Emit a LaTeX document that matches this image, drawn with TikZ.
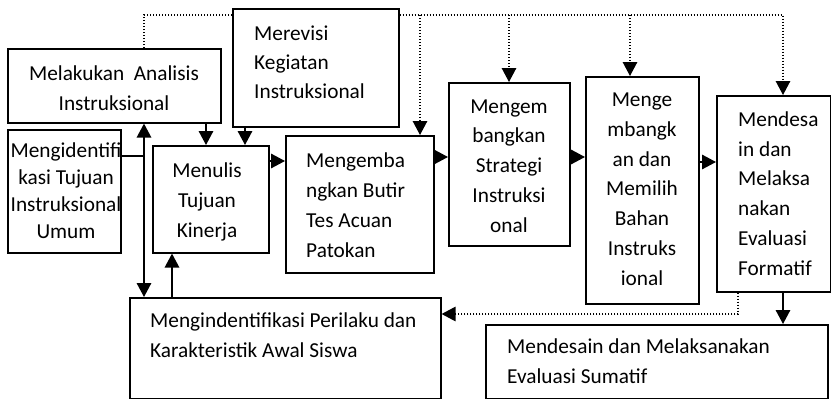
\documentclass[tikz,border=0pt]{standalone}
\usepackage{fontspec}
\setmainfont{Carlito}
\usetikzlibrary{arrows.meta}
\tikzset{
  box/.style={draw, line width=1.6pt, inner sep=0pt, anchor=north west, fill=white},
  txt/.style={font=\fontsize{21.3}{29.7}\selectfont, inner sep=0pt, anchor=base},
  txtl/.style={txt, anchor=base west, align=left},
  txtc/.style={txt, anchor=base, align=center},
  arr/.style={line width=1.6pt, -{Triangle[length=14pt,width=14.5pt]}},
  darr/.style={line width=1.6pt, {Triangle[length=14pt,width=14.5pt]}-{Triangle[length=14pt,width=14.5pt]}},
  fb/.style={line width=1.4pt, dash pattern=on 1.4pt off 1.6pt},
  fbarr/.style={fb, -{Triangle[length=14pt,width=14.5pt]}},
}
\begin{document}
\begin{tikzpicture}[x=1pt,y=-1pt]
\useasboundingbox (0,0) rectangle (831,399);
% boxes
\node[box, minimum width=213pt, minimum height=74pt] (b1) at (7,48) {};
\node[box, minimum width=166pt, minimum height=118pt] (b2) at (232,8) {};
\node[box, minimum width=113pt, minimum height=123pt] (b3) at (7,129) {};
\node[box, minimum width=116pt, minimum height=107pt] (b4) at (152,145) {};
\node[box, minimum width=148pt, minimum height=137pt] (b5) at (285,135) {};
\node[box, minimum width=121pt, minimum height=163pt] (b6) at (448,82) {};
\node[box, minimum width=113pt, minimum height=227pt] (b7) at (585,76) {};
\node[box, minimum width=114pt, minimum height=196pt] (b8) at (716,95) {};
\node[box, minimum width=311pt, minimum height=101pt] (b9) at (129,297) {};
\node[box, minimum width=342pt, minimum height=74pt] (b10) at (485,324) {};
% texts (anchored at the baseline of the last line)
\node[txtc] (t1) at (114,110) {Melakukan\ \ Analisis\\Instruksional};
\node[txtl, font=\fontsize{21.3}{29}\selectfont] (t2) at (254,98) {Merevisi\\Kegiatan\\Instruksional};
\node[txtc, font=\fontsize{21.3}{26.7}\selectfont] (t3) at (66,238) {Mengidentifi\\kasi Tujuan\\Instruksional\\Umum};
\node[txtc] (t4) at (207,237) {Menulis\\Tujuan\\Kinerja};
\node[txtl] (t5) at (306,257) {Mengemba\\ngkan Butir\\Tes Acuan\\Patokan};
\node[txtc] (t6) at (509,232) {Mengem\\bangkan\\Strategi\\Instruksi\\onal};
\node[txtc] (t7) at (642,285) {Menge\\mbangk\\an dan\\Memilih\\Bahan\\Instruks\\ional};
\node[txtl] (t8) at (738,275) {Mendesa\\in dan\\Melaksa\\nakan\\Evaluasi\\Formatif};
\node[txtl] (t9) at (150,357) {Mengindentifikasi Perilaku dan\\Karakteristik Awal Siswa};
\node[txtl] (t10) at (507,383) {Mendesain dan Melaksanakan\\Evaluasi Sumatif};
% feedback coordinates
\coordinate (fbL) at (144,15);
\coordinate (fb5) at (420,15);
\coordinate (fb6) at (509,15);
\coordinate (fb7) at (630,15);
\coordinate (fbR) at (783,15);
\coordinate (fbB) at (738,314);
\coordinate (jn) at (144,156);
% feedback dotted lines
\draw[fb] (b1.north -| fbL) -- (fbL) -- (b2.west |- fbL);
\draw[fbarr] (b2.east |- fbR) -- (fbR) -- (b8.north -| fbR);
\draw[fbarr] (fb5) -- (b5.north -| fb5);
\draw[fbarr] (fb6) -- (b6.north -| fb6);
\draw[fbarr] (fb7) -- (b7.north -| fb7);
\draw[fbarr] (b8.south -| fbB) -- (fbB) -- (b9.east |- fbB);
% solid connectors
\draw[line width=1.6pt] (b3.east |- jn) -- (jn);
\draw[darr] (b1.south -| jn) -- (b9.north -| jn);
\draw[arr] (b1.south -| 206,0) -- (b4.north -| 206,0);
\draw[arr] (b2.south -| 245,0) -- (b4.north -| 245,0);
\draw[arr] (b9.north -| 172,0) -- (b4.south -| 172,0);
\draw[arr] (b4.east |- 0,161) -- (b5.west |- 0,161);
\draw[arr] (b5.east |- 0,157) -- (b6.west |- 0,157);
\draw[arr] (b6.east |- 0,157) -- (b7.west |- 0,157);
\draw[arr] (b7.east |- 0,162) -- (b8.west |- 0,162);
\draw[arr] (b8.south -| fbR) -- (b10.north -| fbR);
\end{tikzpicture}
\end{document}
